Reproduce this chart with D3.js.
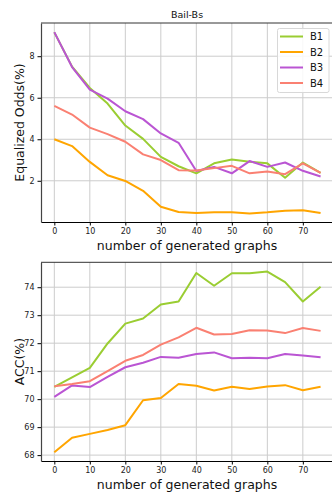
<!DOCTYPE html>
<html><head><meta charset="utf-8">
<script src="https://cdn.jsdelivr.net/npm/d3@7"></script>
<style>body{margin:0;background:#fff}svg{display:block}</style>
</head><body>
<script>
const xs = [0,5,10,15,20,25,30,35,40,45,50,55,60,65,70,75];
const seriesNames = ["B1","B2","B3","B4"];
const colors = ["#9acd32","#ffa500","#ba55d3","#fa8072"];
const eoB1 = [9.15,7.50,6.47,5.72,4.66,4.02,3.15,2.70,2.36,2.84,3.03,2.92,2.84,2.15,2.88,2.38];
const eoB2 = [4.00,3.67,2.91,2.27,1.99,1.52,0.75,0.50,0.45,0.48,0.48,0.43,0.48,0.56,0.58,0.45];
const eoB3 = [9.16,7.48,6.39,5.96,5.35,4.97,4.28,3.83,2.47,2.67,2.36,2.95,2.67,2.88,2.48,2.21];
const eoB4 = [5.61,5.19,4.56,4.25,3.88,3.27,3.00,2.51,2.50,2.61,2.72,2.36,2.45,2.32,2.84,2.38];
const accB1 = [70.44,70.78,71.12,71.99,72.70,72.88,73.38,73.49,74.51,74.05,74.50,74.50,74.56,74.18,73.49,74.02];
const accB2 = [68.10,68.62,68.76,68.90,69.07,69.96,70.04,70.54,70.48,70.31,70.44,70.36,70.45,70.50,70.32,70.44];
const accB3 = [70.08,70.49,70.43,70.80,71.14,71.30,71.51,71.48,71.61,71.67,71.46,71.48,71.46,71.61,71.56,71.50];
const accB4 = [70.46,70.54,70.64,71.00,71.37,71.58,71.95,72.21,72.55,72.31,72.33,72.46,72.45,72.36,72.54,72.44];
const xTicks = [0,10,20,30,40,50,60,70];
const eoTicks = [2,4,6,8];
const accTicks = [68,69,70,71,72,73,74];
const title = "Bail-Bs";
const xLabel = "number of generated graphs";
const eoLabel = "Equalized Odds(%)";
const accLabel = "ACC(%)";

const W = 332, H = 496;
const svg = d3.select("body").append("svg").attr("width", W).attr("height", H);
const font = "DejaVu Sans, sans-serif";

const x = d3.scaleLinear().domain([-3.75, 78.75]).range([41, 333.9]);

function panel(top, bottom, series, yDomain, yTicks, yLabel, legend) {
  const y = d3.scaleLinear().domain(yDomain).range([bottom, top]);
  const g = svg.append("g");
  g.selectAll(".vg").data(xTicks).enter().append("line")
    .attr("x1", d => x(d)).attr("x2", d => x(d)).attr("y1", top).attr("y2", bottom)
    .attr("stroke", "#cccccc").attr("stroke-width", 1);
  g.selectAll(".hg").data(yTicks).enter().append("line")
    .attr("x1", 41).attr("x2", 334).attr("y1", d => y(d)).attr("y2", d => y(d))
    .attr("stroke", "#cccccc").attr("stroke-width", 1);
  const line = d3.line().x((d, i) => x(xs[i])).y(d => y(d));
  series.forEach((s, k) => {
    g.append("path").datum(s).attr("d", line).attr("fill", "none")
      .attr("stroke", colors[k]).attr("stroke-width", 2).attr("stroke-linejoin", "round");
  });
  g.append("line").attr("x1", 41).attr("x2", 334).attr("y1", top).attr("y2", top).attr("stroke", "#333").attr("stroke-width", 1);
  const xa = g.append("g").attr("transform", `translate(0,${bottom})`)
    .call(d3.axisBottom(x).tickValues(xTicks).tickSizeInner(3.5).tickSizeOuter(0).tickPadding(3).tickFormat(d3.format("d")));
  xa.select(".domain").attr("stroke", "#000").attr("stroke-width", 1.2);
  const ya = g.append("g").attr("transform", `translate(41,0)`)
    .call(d3.axisLeft(y).tickValues(yTicks).tickSizeInner(3.5).tickSizeOuter(0).tickPadding(3).tickFormat(d3.format("d")));
  ya.select(".domain").attr("stroke", "#444").attr("stroke-width", 1.2);
  [xa, ya].forEach(a => a.selectAll("text").attr("font-family", font).attr("font-size", 8).attr("fill", "#222"));
  g.append("text").attr("x", 187).attr("y", bottom + 27.5).attr("text-anchor", "middle")
    .attr("font-family", font).attr("font-size", 12.5).attr("fill", "#111").text(xLabel);
  g.append("text").attr("transform", `translate(23.5,${(top + bottom) / 2}) rotate(-90)`)
    .attr("text-anchor", "middle").attr("font-family", font).attr("font-size", 12.5).attr("fill", "#111").text(yLabel);
  if (legend) {
    const lg = g.append("g");
    lg.append("rect").attr("x", 277.5).attr("y", 28.5).attr("width", 51.5).attr("height", 64)
      .attr("rx", 2).attr("fill", "#fff").attr("fill-opacity", 0.85).attr("stroke", "#d8d8d8");
    seriesNames.forEach((n, k) => {
      const yy = 36.5 + k * 15.5;
      lg.append("line").attr("x1", 280).attr("x2", 303).attr("y1", yy).attr("y2", yy)
        .attr("stroke", colors[k]).attr("stroke-width", 2);
      lg.append("text").attr("x", 310).attr("y", yy + 3.8).attr("font-family", font)
        .attr("font-size", 10).attr("fill", "#111").text(n);
    });
  }
}

svg.append("text").attr("x", 187).attr("y", 18).attr("text-anchor", "middle")
  .attr("font-family", font).attr("font-size", 9.5).attr("fill", "#111").text(title);

panel(23, 222, [eoB1, eoB2, eoB3, eoB4], [0.015, 9.6], eoTicks, eoLabel, true);
panel(262.3, 461, [accB1, accB2, accB3, accB4], [67.79, 74.89], accTicks, accLabel, false);
</script>
</body></html>
